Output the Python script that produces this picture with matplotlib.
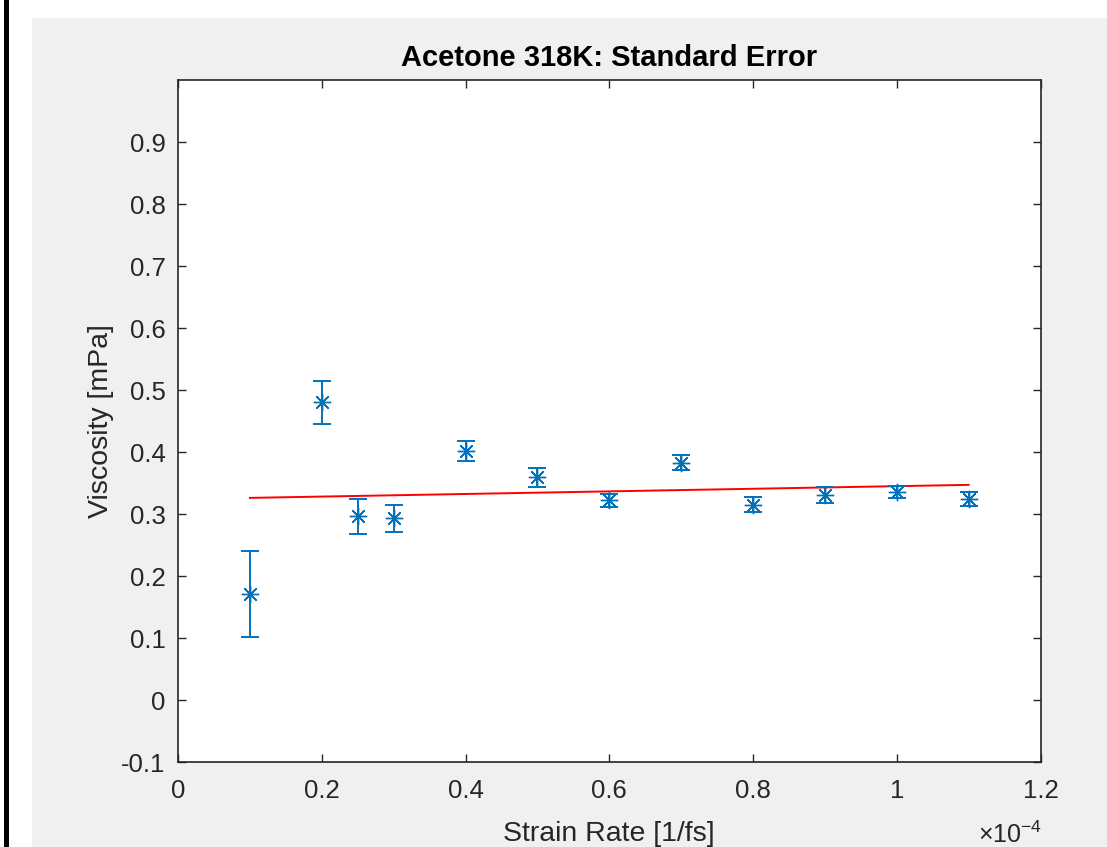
import numpy as np
import matplotlib.pyplot as plt
from matplotlib.patches import Rectangle
from matplotlib.ticker import FuncFormatter

plt.rcParams['font.family'] = ['Liberation Sans', 'DejaVu Sans']
plt.rcParams['mathtext.fontset'] = 'custom'
plt.rcParams['mathtext.rm'] = 'Liberation Sans'
plt.rcParams['mathtext.it'] = 'Liberation Sans:italic'
plt.rcParams['mathtext.bf'] = 'Liberation Sans:bold'

# strain rate in 1/fs (units of 1e-4)
strain_rate = [0.1, 0.2, 0.25, 0.3, 0.4, 0.5, 0.6, 0.7, 0.8, 0.9, 1.0, 1.1]
viscosity = [0.171, 0.480, 0.296, 0.293, 0.401, 0.359, 0.322, 0.383, 0.315, 0.330, 0.335, 0.324]
std_err = [0.070, 0.035, 0.028, 0.022, 0.016, 0.015, 0.011, 0.012, 0.012, 0.013, 0.010, 0.011]

# linear fit endpoints
fit_x = [0.1, 1.1]
fit_y = [0.326, 0.347]

x_ticks = [0, 0.2, 0.4, 0.6, 0.8, 1.0, 1.2]
y_ticks = [-0.1, 0, 0.1, 0.2, 0.3, 0.4, 0.5, 0.6, 0.7, 0.8, 0.9]

scale = 1e-4
x = np.array(strain_rate) * scale

W, H = 1107, 847
fig = plt.figure(figsize=(W / 100, H / 100), dpi=100, facecolor='white')

# gray figure panel + black left border
fig.add_artist(Rectangle((32 / W, 0), 1 - 32 / W, 1 - 18 / H,
                         transform=fig.transFigure, facecolor='#f0f0f0',
                         edgecolor='none', zorder=-10))
fig.add_artist(Rectangle((4 / W, 0), 5 / W, 1, transform=fig.transFigure,
                         facecolor='black', edgecolor='none', zorder=-10))

ax = fig.add_axes([178 / W, 85 / H, (1040.5 - 178) / W, (762 - 80) / H])
ax.set_zorder(1)
ax.set_facecolor('white')

blue = '#0072BD'
ax.errorbar(x, viscosity, yerr=std_err, fmt='none', ecolor=blue,
            elinewidth=1.4, capsize=6.8, capthick=1.4, zorder=3)
ax.plot(x, viscosity, linestyle='none', marker=(8, 2, 0), markersize=12.5,
        markeredgecolor=blue, markeredgewidth=1.0, color=blue, zorder=4)
ax.plot(x, viscosity, linestyle='none', marker='o', markersize=3.5,
        markeredgewidth=0, color=blue, zorder=4)
ax.plot(np.array(fit_x) * scale, fit_y, color='red', linewidth=1.4, zorder=2)

ax.set_xlim(0, 1.2 * scale)
ax.set_ylim(-0.1, 1.0)
ax.set_xticks(np.array(x_ticks) * scale)
ax.set_yticks(y_ticks)
ax.xaxis.set_major_formatter(FuncFormatter(lambda v, p: '%g' % round(v / scale, 6)))
ax.yaxis.set_major_formatter(FuncFormatter(lambda v, p: '%g' % round(v, 6)))

axcol = '#262626'
ax.tick_params(direction='in', length=6, width=1, colors=axcol,
               labelsize=18.5, top=True, right=True)
ax.tick_params(axis='x', pad=12)
ax.tick_params(axis='y', pad=9)
for s in ax.spines.values():
    s.set_color(axcol)
    s.set_linewidth(1.2)

ax.set_title('Acetone 318K: Standard Error', fontsize=21, fontweight='bold',
             color='black', pad=10)
ax.set_xlabel('Strain Rate [1/fs]', fontsize=20.5, color=axcol, labelpad=13)
ax.set_ylabel('Viscosity [mPa]', fontsize=20.5, color=axcol, labelpad=5)

fig.text(1042 / W, 1 - 822 / H, r'$\times$10$^{\mathrm{-4}}$', ha='right', va='top',
         fontsize=18, color=axcol)

fig.savefig('out.png', dpi=100, facecolor=fig.get_facecolor())
